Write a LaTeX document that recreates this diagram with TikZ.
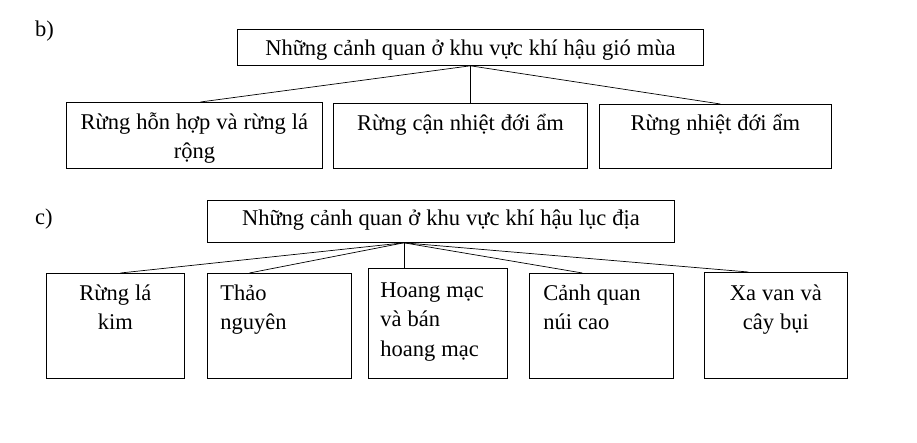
\documentclass[tikz,border=0pt]{standalone}
\usepackage{fontspec}
\setmainfont{Liberation Serif}
\tikzset{
  cell/.style={draw, line width=0.8pt, anchor=north west, inner sep=0pt,
    align=center, text height=27pt, font=\fontsize{22.5}{29.5}\selectfont,
    execute at begin node={\spaceskip=6pt\relax}},
  leftcell/.style={align=left, inner xsep=13pt},
  tag/.style={anchor=base west, inner sep=0pt, font=\fontsize{22.5}{29.5}\selectfont},
  link/.style={line width=0.7pt}
}
\begin{document}
\begin{tikzpicture}[x=1pt, y=-1pt]
\path[use as bounding box] (0,0) rectangle (917,442);

% b) gio mua
\node[tag] (tagb) at (35,36) {b)};
\node[cell, text width=466pt, text height=26pt, text depth=10pt] (giomua) at (237,29) {Những cảnh quan ở khu vực khí hậu gió mùa};
\node[cell, text width=256pt, text depth=39pt] (honhop) at (66,102) {Rừng hỗn hợp và rừng lá\\ rộng};
\node[cell, text width=254pt, text depth=38pt] (cannhiet) at (333,103) {Rừng cận nhiệt đới ẩm};
\node[cell, text width=232pt, text height=26pt, text depth=38pt] (nhietdoi) at (599,104) {Rừng nhiệt đới ẩm};

\draw[link] (giomua.south) -- ([xshift=6pt]honhop.north);
\draw[link] (giomua.south) -- (giomua.south |- cannhiet.north);
\draw[link] (giomua.south) -- ([xshift=5pt]nhietdoi.north);

% c) luc dia
\node[tag] (tagc) at (35,224) {c)};
\node[cell, text width=467pt, text height=25pt, text depth=17pt] (lucdia) at (207,200) {Những cảnh quan ở khu vực khí hậu lục địa};
\node[cell, text width=138pt, text depth=78pt] (lakim) at (46,273) {Rừng lá\\ kim};
\node[cell, leftcell, text width=118pt, text depth=78pt] (thaonguyen) at (207,273) {Thảo\\ nguyên};
\node[cell, leftcell, inner xsep=12pt, text width=115pt, text height=29pt, text depth=81pt] (hoangmac) at (368,268) {Hoang mạc\\ và bán\\ hoang mạc};
\node[cell, leftcell, inner xsep=14pt, text width=116pt, text depth=78pt] (nuicao) at (529,273) {Cảnh quan\\ núi cao};
\node[cell, text width=143pt, text height=28pt, text depth=78pt] (xavan) at (704,272) {Xa van và\\ cây bụi};

\coordinate (lucdiafoot) at ([xshift=-37pt]lucdia.south);
\draw[link] (lucdiafoot) -- ([xshift=5pt]lakim.north);
\draw[link] (lucdiafoot) -- ([xshift=-30pt]thaonguyen.north);
\draw[link] (lucdiafoot) -- (lucdiafoot |- hoangmac.north);
\draw[link] (lucdiafoot) -- ([xshift=-19pt]nuicao.north);
\draw[link] (lucdiafoot) -- ([xshift=-27.5pt]xavan.north);
\end{tikzpicture}
\end{document}
